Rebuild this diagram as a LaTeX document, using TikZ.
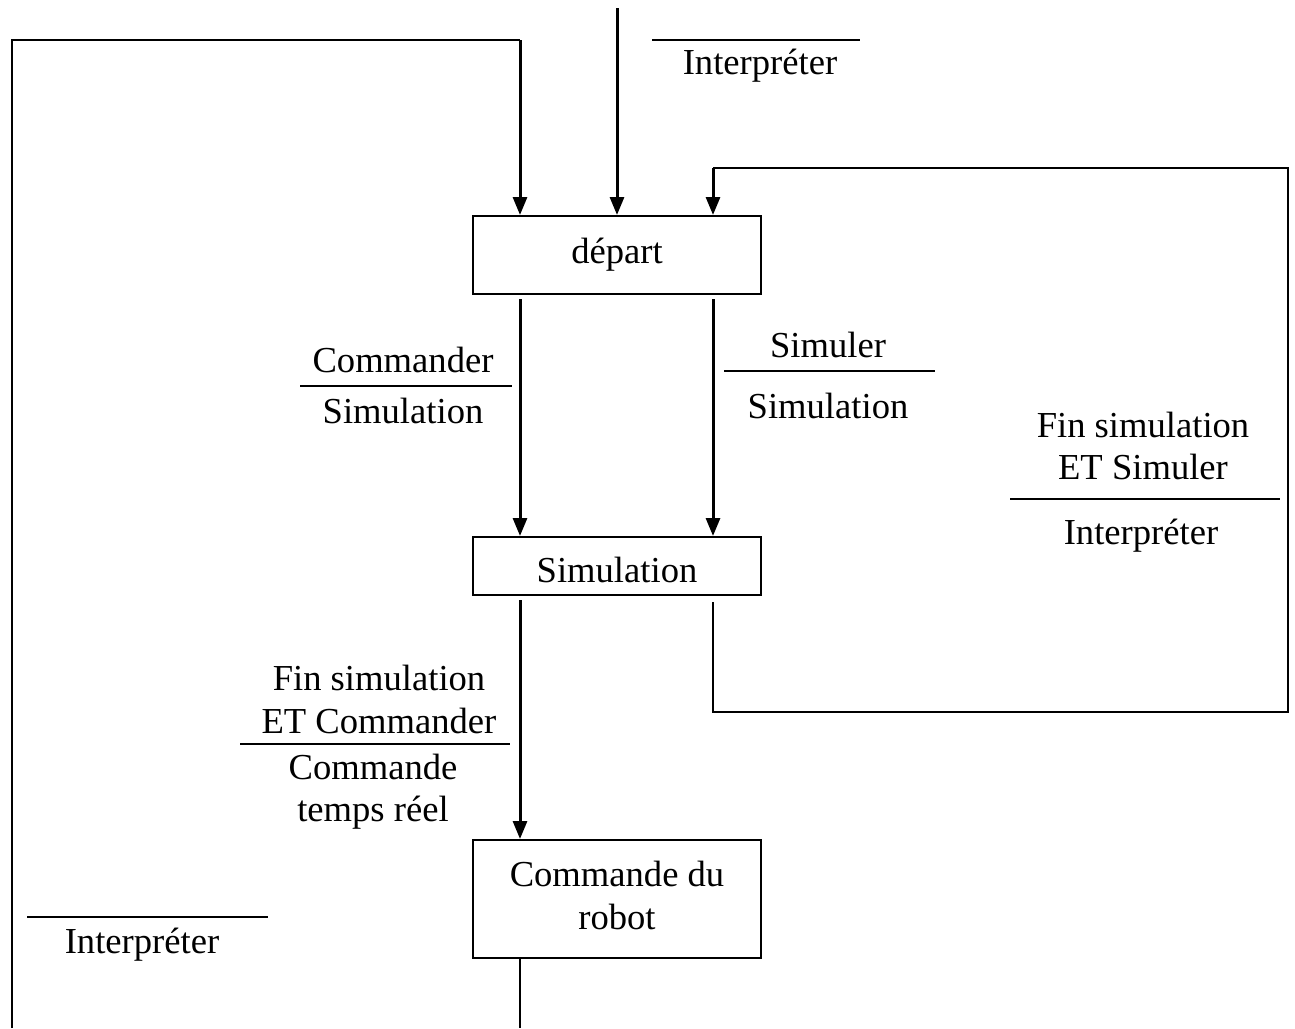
\documentclass[tikz,border=0pt]{standalone}
\usepackage{fontspec}
\setmainfont{Liberation Serif}
\usetikzlibrary{arrows.meta}
\begin{document}
\begin{tikzpicture}[x=0.5pt,y=-0.5pt,
  every node/.style={font=\fontsize{18.3}{21.5}\selectfont, inner sep=0pt},
  statebox/.style={draw, line width=1pt, minimum width=144pt, rectangle},
  arr/.style={line width=1.5pt, -{Triangle[length=9pt,width=7pt]}},
  loopline/.style={line width=1pt},
  bar/.style={line width=1pt},
  lbl/.style={anchor=base}]
\useasboundingbox (0,0) rectangle (1295,1028);
% states
\node[statebox, minimum height=39pt] (depart) at (617,255) {départ};
\node[statebox, minimum height=29pt] (sim) at (617,566) {\raisebox{-2pt}[\height][\depth]{Simulation}};
\node[statebox, minimum height=59pt] (cmd) at (617,899) {\raisebox{2pt}{\begin{tabular}{@{}c@{}}Commande du\\robot\end{tabular}}};
% helper coordinates
\coordinate (xl) at (520,0);
\coordinate (xr) at (713,0);
\coordinate (topin) at (617,8);
\coordinate (bl) at (12,1028);
\coordinate (tl) at (12,40);
\coordinate (tr) at (520,40);
\coordinate (rb1) at (713,712);
\coordinate (rb2) at (1288,712);
\coordinate (rt2) at (1288,168);
\coordinate (rt1) at (713,168);
\coordinate (cmdout) at (520,1028);
% connectors
\draw[loopline] (bl) -- (tl) -- (tr);
\draw[arr] (tr) -- (depart.north -| tr);
\draw[arr] (topin) -- (depart.north -| topin);
\draw[arr, shorten <=2pt] (depart.south -| xl) -- (sim.north -| xl);
\draw[arr, shorten <=2pt] (depart.south -| xr) -- (sim.north -| xr);
\draw[arr, shorten <=2pt] (sim.south -| xl) -- (cmd.north -| xl);
\draw[loopline, shorten <=3pt] (sim.south -| xr) -- (rb1) -- (rb2) -- (rt2) -- (rt1);
\draw[arr] (rt1) -- (depart.north -| rt1);
\draw[loopline] (cmd.south -| cmdout) -- (cmdout);
% labels
\draw[bar] (652,40) -- (860,40);
\node[lbl] (l1) at (760,74) {Interpréter};

\node[lbl] (l2a) at (403,372) {Commander};
\draw[bar] (300,386) -- (512,386);
\node[lbl] (l2b) at (403,423) {Simulation};

\node[lbl] (l3a) at (828,357) {Simuler};
\draw[bar] (724,371) -- (935,371);
\node[lbl] (l3b) at (828,418) {Simulation};

\node[lbl] (l4a) at (379,690) {Fin simulation};
\node[lbl] (l4b) at (379,733) {ET Commander};
\draw[bar] (240,744) -- (510,744);
\node[lbl] (l4c) at (373,779) {Commande};
\node[lbl] (l4d) at (373,821) {temps réel};

\node[lbl] (l5a) at (1143,437) {Fin simulation};
\node[lbl] (l5b) at (1143,479) {ET Simuler};
\draw[bar] (1010,499) -- (1280,499);
\node[lbl] (l5c) at (1141,544) {Interpréter};

\draw[bar] (27,917) -- (268,917);
\node[lbl] (l6) at (142,953) {Interpréter};
\end{tikzpicture}
\end{document}
